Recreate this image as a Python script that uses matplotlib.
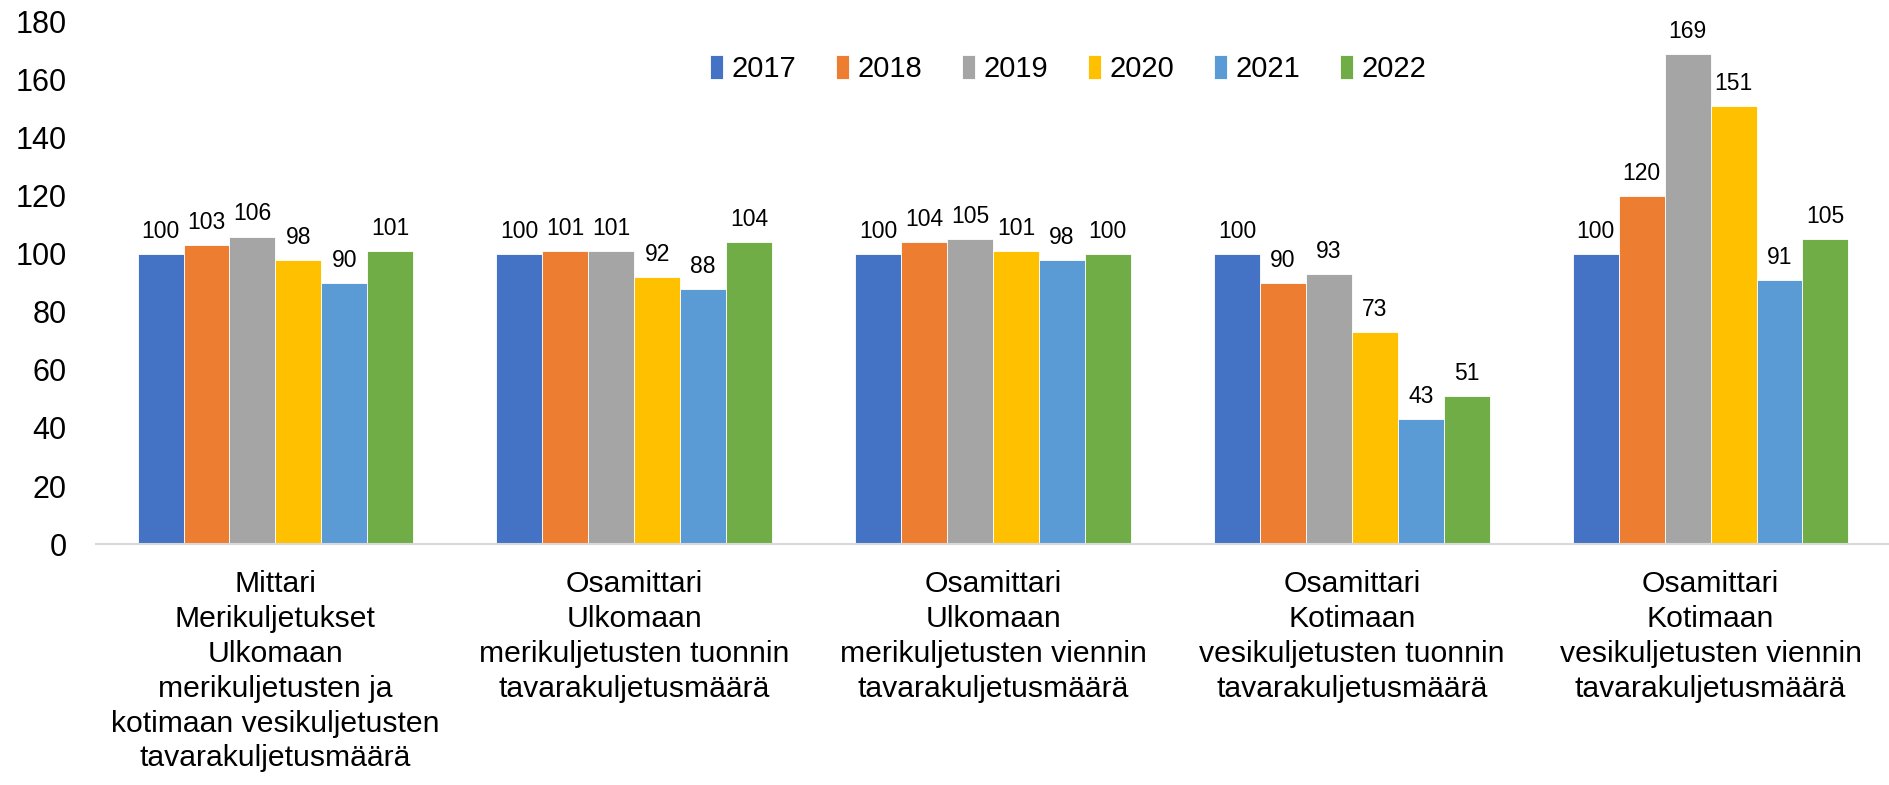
import matplotlib.pyplot as plt
import numpy as np

plt.rcParams['font.family'] = ['Liberation Sans', 'DejaVu Sans']

categories = [
    "Mittari\nMerikuljetukset\nUlkomaan\nmerikuljetusten ja\nkotimaan vesikuljetusten\ntavarakuljetusmäärä",
    "Osamittari\nUlkomaan\nmerikuljetusten tuonnin\ntavarakuljetusmäärä",
    "Osamittari\nUlkomaan\nmerikuljetusten viennin\ntavarakuljetusmäärä",
    "Osamittari\nKotimaan\nvesikuljetusten tuonnin\ntavarakuljetusmäärä",
    "Osamittari\nKotimaan\nvesikuljetusten viennin\ntavarakuljetusmäärä",
]
years = ["2017", "2018", "2019", "2020", "2021", "2022"]
v2017 = [100, 100, 100, 100, 100]
v2018 = [103, 101, 104, 90, 120]
v2019 = [106, 101, 105, 93, 169]
v2020 = [98, 92, 101, 73, 151]
v2021 = [90, 88, 98, 43, 91]
v2022 = [101, 104, 100, 51, 105]
series = [v2017, v2018, v2019, v2020, v2021, v2022]
colors = ["#4472C4", "#ED7D31", "#A5A5A5", "#FFC000", "#5B9BD5", "#70AD47"]

fig = plt.figure(figsize=(18.9, 7.85), dpi=100)
ax = fig.add_axes([0.0508, 0.307, 0.9492, 0.665])

x = np.arange(len(categories))
w = 0.128
for j, (vals, year, col) in enumerate(zip(series, years, colors)):
    bars = ax.bar(x + (j - 2.5) * w, vals, w, color=col, label=year,
                  edgecolor="white", linewidth=0.6)
    ax.bar_label(bars, labels=[str(v) for v in vals], padding=8, fontsize=16.5)

ax.set_xlim(-0.5, 4.5)
ax.set_ylim(0, 180)
ax.set_yticks(range(0, 181, 20))
ax.set_xticks(x)
ax.set_xticklabels(categories, fontsize=21.7, linespacing=1.31)
ax.tick_params(axis="y", labelsize=22, length=0, pad=21)
ax.tick_params(axis="x", length=0, pad=19)
for s in ["top", "right", "left"]:
    ax.spines[s].set_visible(False)
ax.spines["bottom"].set_color("#D9D9D9")
ax.spines["bottom"].set_linewidth(1.5)

ax.legend(loc="center", bbox_to_anchor=(0.542, 0.91), ncol=6, frameon=False,
          fontsize=21, handlelength=0.45, handleheight=0.9, handletextpad=0.3,
          columnspacing=1.35)

fig.savefig("out.png", dpi=100)
